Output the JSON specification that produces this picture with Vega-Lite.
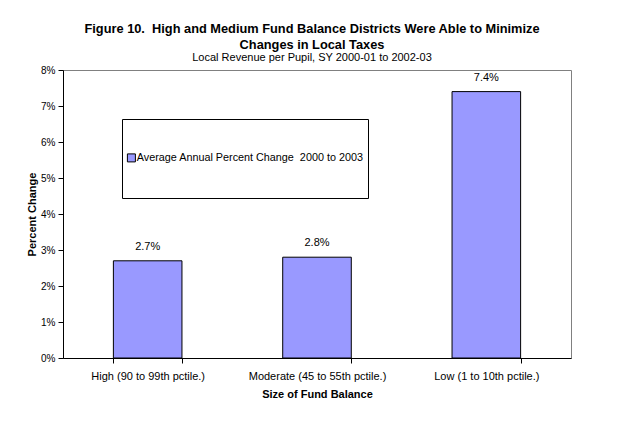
{
  "$schema": "https://vega.github.io/schema/vega-lite/v6.json",
  "width": 508,
  "height": 288,
  "autosize": {"type": "none"},
  "padding": {"left": 63, "top": 70, "right": 53, "bottom": 70},
  "background": "white",
  "title": {
    "text": ["Figure 10.\u00a0 High and Medium Fund Balance Districts Were Able to Minimize", "Changes in Local Taxes"],
    "subtitle": "Local Revenue per Pupil, SY 2000-01 to 2002-03",
    "anchor": "middle",
    "frame": "group",
    "dx": -5,
    "font": "Liberation Sans",
    "fontSize": 12.8,
    "fontWeight": "bold",
    "lineHeight": 16,
    "color": "black",
    "subtitleFont": "Liberation Sans",
    "subtitleFontSize": 11,
    "subtitleColor": "black",
    "subtitlePadding": 0,
    "offset": 2
  },
  "data": {
    "values": [
      {"category": "High (90 to 99th pctile.)", "change": 0.027, "series": "Average Annual Percent Change\u00a0 2000 to 2003"},
      {"category": "Moderate (45 to 55th pctile.)", "change": 0.028, "series": "Average Annual Percent Change\u00a0 2000 to 2003"},
      {"category": "Low (1 to 10th pctile.)", "change": 0.074, "series": "Average Annual Percent Change\u00a0 2000 to 2003"}
    ]
  },
  "encoding": {
    "x": {
      "field": "category",
      "type": "nominal",
      "sort": null,
      "scale": {"paddingInner": 0.595, "paddingOuter": 0.2975},
      "axis": {
        "title": "Size of Fund Balance",
        "titleFont": "Liberation Sans",
        "titleFontSize": 11,
        "titleFontWeight": "bold",
        "titleColor": "black",
        "titlePadding": 7,
        "labelAngle": 0,
        "labelFont": "Liberation Sans",
        "labelFontSize": 11,
        "labelColor": "black",
        "labelPadding": 7,
        "labelLimit": 0,
        "tickBand": "extent",
        "tickSize": 5,
        "tickColor": "black",
        "domainColor": "black",
        "grid": false
      }
    },
    "y": {
      "field": "change",
      "type": "quantitative",
      "scale": {"domain": [0, 0.08], "nice": false},
      "axis": {
        "title": "Percent Change",
        "titleFont": "Liberation Sans",
        "titleFontSize": 11,
        "titleFontWeight": "bold",
        "titleColor": "black",
        "titlePadding": 3,
        "format": ".0%",
        "values": [0, 0.01, 0.02, 0.03, 0.04, 0.05, 0.06, 0.07, 0.08],
        "labelFont": "Liberation Sans",
        "labelFontSize": 10,
        "labelColor": "black",
        "labelPadding": 3,
        "tickSize": 5,
        "tickColor": "black",
        "domainColor": "black",
        "grid": false
      }
    }
  },
  "layer": [
    {
      "mark": {"type": "bar", "strokeWidth": 1},
      "encoding": {
        "color": {
          "field": "series",
          "type": "nominal",
          "scale": {
            "domain": [" ", "Average Annual Percent Change\u00a0 2000 to 2003", "  "],
            "range": ["rgba(0,0,0,0)", "#9999FF", "rgba(0,0,0,0)"]
          },
          "legend": {
            "orient": "none",
            "legendX": 59,
            "legendY": 49,
            "direction": "vertical",
            "title": null,
            "strokeColor": "black",
            "fillColor": "white",
            "padding": 4,
            "labelFont": "Liberation Sans",
            "labelFontSize": 10.8,
            "labelColor": "black",
            "labelLimit": 0,
            "labelOffset": 0,
            "symbolType": "square",
            "symbolSize": 64,
            "symbolStrokeWidth": 1,
            "rowPadding": 16.5
          }
        },
        "stroke": {
          "field": "series",
          "type": "nominal",
          "scale": {
            "domain": [" ", "Average Annual Percent Change\u00a0 2000 to 2003", "  "],
            "range": ["rgba(0,0,0,0)", "#000000", "rgba(0,0,0,0)"]
          },
          "legend": {
            "orient": "none",
            "legendX": 59,
            "legendY": 49,
            "direction": "vertical",
            "title": null,
            "strokeColor": "black",
            "fillColor": "white",
            "padding": 4,
            "labelFont": "Liberation Sans",
            "labelFontSize": 10.8,
            "labelColor": "black",
            "labelLimit": 0,
            "labelOffset": 0,
            "symbolType": "square",
            "symbolSize": 64,
            "symbolStrokeWidth": 1,
            "rowPadding": 16.5
          }
        }
      }
    },
    {
      "mark": {"type": "text", "baseline": "alphabetic", "dy": -11, "font": "Liberation Sans", "fontSize": 11, "color": "black"},
      "encoding": {
        "text": {"field": "change", "type": "quantitative", "format": ".1%"}
      }
    }
  ],
  "config": {
    "view": {"stroke": "#808080"}
  }
}
